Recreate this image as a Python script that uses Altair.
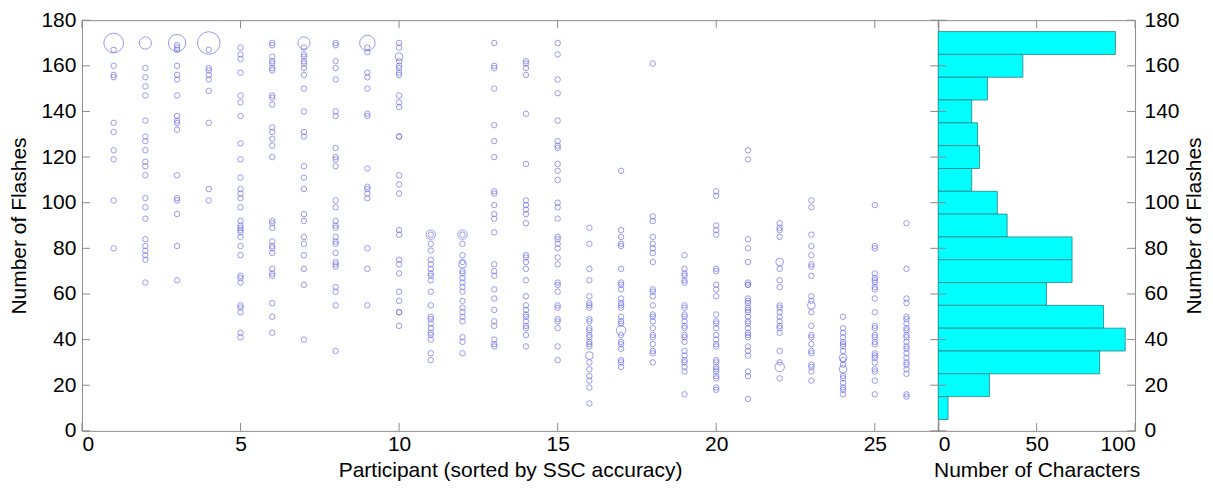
import altair as alt
import pandas as pd

# ---- scatter data: flashes per character, per participant
p01 = [167, 160, 156, 155, 135, 131, 123, 119, 101, 80]
p02 = [159, 155, 151, 147, 136, 129, 127, 123, 118, 116, 112, 102, 98, 93, 84, 81, 79, 77, 75, 65]
p03 = [169, 168, 167, 160, 156, 154, 147, 138, 136, 135, 132, 112, 102, 101, 95, 81, 66]
p04 = [167, 159, 158, 156, 154, 149, 135, 106, 101]
p05 = [168, 165, 163, 157, 147, 144, 138, 126, 119, 111, 106, 104, 102, 98, 92, 90, 89, 88, 87, 85,
       81, 77, 68, 67, 65, 55, 54, 52, 43, 41]
p06 = [170, 169, 164, 162, 161, 159, 158, 147, 146, 143, 133, 131, 128, 125, 120, 92, 91, 89, 83, 81,
       80, 78, 71, 69, 68, 56, 50, 43]
p07 = [168, 165, 164, 162, 161, 159, 156, 150, 140, 131, 129, 116, 111, 106, 95, 92, 85, 82, 77, 71, 64, 40]
p08 = [170, 169, 162, 159, 154, 140, 138, 124, 120, 119, 116, 101, 98, 92, 90, 89, 85, 83, 82, 78,
       74, 73, 72, 63, 61, 55, 35]
p09 = [168, 166, 157, 155, 150, 139, 138, 115, 107, 106, 104, 102, 80, 71, 55]
p10 = [170, 168, 162, 160, 159, 157, 156, 147, 144, 142, 129, 129, 112, 108, 104, 88, 86, 75, 73, 69,
       61, 57, 52, 52, 46]
p11 = [86, 82, 79, 75, 73, 71, 69, 68, 66, 61, 55, 50, 49, 47, 45, 43, 42, 40, 34, 31]
p12 = [86, 82, 77, 74, 70, 69, 67, 65, 63, 61, 57, 54, 52, 50, 48, 41, 39, 34]
p13 = [170, 160, 159, 150, 134, 127, 120, 105, 104, 99, 95, 93, 87, 73, 70, 68, 62, 58, 53, 48, 46, 40, 38, 37]
p14 = [162, 161, 159, 156, 139, 117, 101, 99, 97, 95, 91, 77, 76, 74, 71, 66, 59, 55, 53, 51, 50, 48,
       46, 45, 42, 37]
p15 = [170, 165, 154, 148, 136, 127, 125, 124, 117, 114, 110, 100, 98, 93, 85, 84, 82, 80, 76, 73, 65,
       64, 61, 55, 54, 49, 48, 45, 37, 31]
p16 = [89, 82, 71, 66, 59, 56, 55, 54, 49, 48, 45, 44, 42, 41, 39, 38, 37, 30, 27, 24, 22, 19, 12]
p17 = [114, 88, 85, 82, 81, 71, 65, 64, 62, 58, 56, 55, 54, 50, 48, 47, 42, 39, 38, 36, 31, 30, 28]
p18 = [161, 94, 92, 85, 82, 80, 78, 74, 62, 61, 59, 55, 51, 50, 48, 45, 42, 41, 38, 35, 34, 30]
p19 = [77, 71, 69, 68, 66, 65, 55, 54, 51, 50, 48, 46, 45, 42, 41, 39, 35, 33, 31, 30, 28, 26, 16]
p20 = [105, 103, 90, 88, 86, 71, 70, 64, 62, 59, 51, 48, 47, 45, 42, 40, 38, 37, 31, 30, 28, 27, 26,
       24, 23, 19, 18]
p21 = [123, 119, 84, 80, 74, 65, 64, 64, 58, 57, 56, 54, 53, 52, 50, 48, 47, 45, 43, 42, 41, 37, 35,
       33, 26, 24, 14]
p22 = [91, 89, 88, 85, 71, 66, 63, 55, 54, 52, 50, 48, 46, 45, 43, 35, 30, 23]
p23 = [101, 98, 86, 81, 77, 73, 72, 68, 59, 57, 52, 46, 42, 41, 38, 35, 34, 29, 28, 26, 22]
p24 = [50, 45, 43, 41, 39, 38, 37, 35, 31, 29, 24, 23, 21, 19, 18, 16]
p25 = [99, 81, 80, 69, 67, 66, 65, 63, 62, 58, 52, 46, 45, 42, 41, 39, 38, 34, 33, 32, 30, 27, 26, 22, 16]
p26 = [91, 71, 58, 56, 50, 49, 47, 45, 44, 42, 41, 39, 37, 36, 34, 32, 30, 29, 27, 25, 16, 15]

participants = [p01, p02, p03, p04, p05, p06, p07, p08, p09, p10, p11, p12, p13,
                p14, p15, p16, p17, p18, p19, p20, p21, p22, p23, p24, p25, p26]

# repeated values (drawn as bigger circles)
dup_participant = [1, 2, 3, 4, 7, 9, 10, 11, 12, 12, 16, 17, 22, 22, 23, 24, 24]
dup_flashes = [170, 170, 170, 170, 170, 170, 164, 86, 86, 73, 33, 44, 74, 28, 55, 32, 27]
dup_count = [13, 5, 10, 17, 5, 8, 2, 3, 3, 2, 2, 3, 2, 3, 2, 2, 2]

# ---- histogram data
bin_centers = [170, 160, 150, 140, 130, 120, 110, 100, 90, 80, 70, 60, 50, 40, 30, 20, 10]
bin_counts = [90, 43, 25, 17, 20, 21, 17, 30, 35, 68, 68, 55, 84, 95, 82, 26, 5]

x_ticks = [0, 5, 10, 15, 20, 25]
y_ticks = [0, 20, 40, 60, 80, 100, 120, 140, 160, 180]
h_ticks = [0, 50, 100]

rows = []
for i, vals in enumerate(participants, start=1):
    for v in vals:
        rows.append({"participant": i, "flashes": v, "count": 1})
for p, f, c in zip(dup_participant, dup_flashes, dup_count):
    rows.append({"participant": p, "flashes": f, "count": c})
df = pd.DataFrame(rows)

bw = bin_centers[0] - bin_centers[1]
hist_df = pd.DataFrame({"center": bin_centers, "count": bin_counts})
hist_df["lo"] = hist_df["center"] - bw / 2
hist_df["hi"] = hist_df["center"] + bw / 2

xt_df = pd.DataFrame({"t": x_ticks})
yt_df = pd.DataFrame({"t": y_ticks})
ht_df = pd.DataFrame({"t": h_ticks})

W, H, HW = 857, 411, 197
TL = 8
GRAY = "#8c8c8c"
FONT = "Liberation Sans"

xscale = alt.Scale(domain=[0, 27], nice=False, zero=False)
yscale = alt.Scale(domain=[0, 180], nice=False)
hscale = alt.Scale(domain=[0, 100], nice=False)

ax_common = dict(grid=False, tickSize=0, domain=False, labelFont=FONT, titleFont=FONT,
                 labelFontSize=21, titleFontSize=21, titleFontWeight="normal",
                 labelColor="black", titleColor="black")

sx_axis = alt.Axis(values=x_ticks, title="Participant (sorted by SSC accuracy)",
                   labelPadding=3, titlePadding=5, **ax_common)
sy_axis = alt.Axis(values=y_ticks, title="Number of Flashes",
                   labelPadding=6, titlePadding=11, **ax_common)
hx_axis = alt.Axis(values=h_ticks, title="Number of Characters",
                   labelPadding=3, titlePadding=5, **ax_common)
hy_axis = alt.Axis(values=y_ticks, title="Number of Flashes", orient="right",
                   titleAngle=270, titleBaseline="top",
                   labelPadding=9, titlePadding=4, **ax_common)

pts = alt.Chart(df).mark_point(shape="circle", filled=False, strokeWidth=1, color="#6e6eea").encode(
    x=alt.X("participant:Q", scale=xscale, axis=sx_axis),
    y=alt.Y("flashes:Q", scale=yscale, axis=sy_axis),
    size=alt.Size("count:Q", scale=alt.Scale(domain=[0, 17], range=[0, 17 * 30]), legend=None),
)


def tick_layers(xdata, xsc, xax, yax, width):
    out = []
    for y1, y2 in ((H, H - TL), (0, TL)):
        out.append(alt.Chart(xdata).mark_rule(color=GRAY).encode(
            x=alt.X("t:Q", scale=xsc, axis=xax), y=alt.value(y1), y2=alt.value(y2)))
    for x1, x2 in ((0, TL), (width, width - TL)):
        out.append(alt.Chart(yt_df).mark_rule(color=GRAY).encode(
            y=alt.Y("t:Q", scale=yscale, axis=yax), x=alt.value(x1), x2=alt.value(x2)))
    return out


scatter = alt.layer(pts, *tick_layers(xt_df, xscale, sx_axis, sy_axis, W)).properties(width=W, height=H)

bars = alt.Chart(hist_df).mark_rect(fill="#00ffff", stroke="#2a7f7f", strokeWidth=0.8).encode(
    x=alt.X("count:Q", scale=hscale, axis=hx_axis),
    x2=alt.datum(0),
    y=alt.Y("lo:Q", scale=yscale, axis=hy_axis),
    y2="hi:Q",
)

hist = alt.layer(bars, *tick_layers(ht_df, hscale, hx_axis, hy_axis, HW)).properties(width=HW, height=H)

chart = alt.hconcat(scatter, hist, spacing=0, bounds="flush").properties(
    padding={"left": 0, "top": 0, "right": 0, "bottom": 0}
).configure_view(stroke=GRAY, strokeWidth=1)

chart.save("out.html", embed_options={"renderer": "svg", "actions": False})
